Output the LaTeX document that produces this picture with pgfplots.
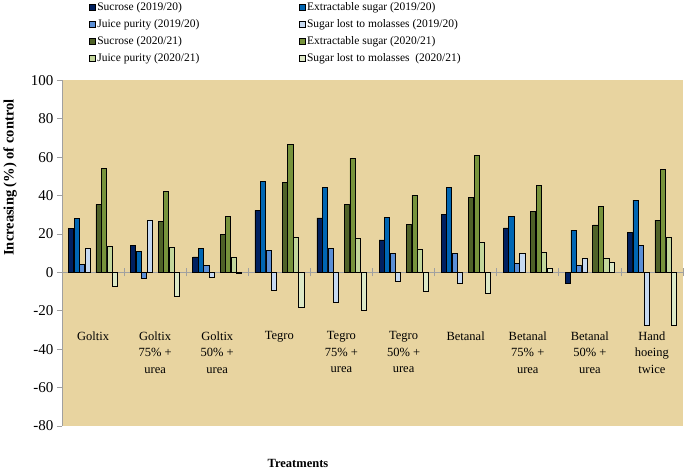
\documentclass[border=0pt]{standalone}
\usepackage{fontspec}
\setmainfont{Liberation Serif}
\usepackage{pgfplots}
\pgfplotsset{compat=1.18}
\definecolor{paper}{HTML}{E8D4A0}
\definecolor{axgray}{HTML}{A0A0A0}
\definecolor{cA}{HTML}{002060}
\definecolor{cB}{HTML}{0066B3}
\definecolor{cC}{HTML}{5B8FD6}
\definecolor{cD}{HTML}{C6D9F1}
\definecolor{cE}{HTML}{4F6228}
\definecolor{cF}{HTML}{77933C}
\definecolor{cG}{HTML}{C3D69B}
\definecolor{cH}{HTML}{DDE8C6}
\begin{document}
\begin{tikzpicture}
\begin{axis}[
  scale only axis, width=621bp, height=345.5bp,
  xmin=-0.5, xmax=9.5, ymin=-80, ymax=100,
  axis x line*=middle, axis y line*=left,
  axis line style={draw=axgray, line width=0.8bp},
  axis background/.style={fill=paper},
  ytick={-80,-60,...,100},
  ytick style={draw=axgray, line width=0.8bp},
  tick align=outside, major tick length=5bp,
  xtick={0,...,9},
  major x tick style={draw=none},
  minor xtick={0.5,1.5,...,9.5},
  minor tick length=8bp,
  minor x tick style={draw=axgray, line width=0.8bp, yshift=4bp},
  xticklabels={Goltix, {Goltix\\75\% +\\urea}, {Goltix\\50\% +\\urea}, Tegro, {Tegro\\75\% +\\urea}, {Tegro\\50\% +\\urea}, Betanal, {Betanal\\75\% +\\urea}, {Betanal\\50\% +\\urea}, {Hand\\hoeing\\twice}},
  xticklabel style={font=\fontsize{12.5bp}{16.5bp}\selectfont, align=center, anchor=north, yshift=-54bp, inner sep=0pt},
  yticklabel style={font=\fontsize{15bp}{16bp}\selectfont},
  /pgf/number format/assume math mode=true,
  ylabel={Increasing (\%) of control},
  every axis y label/.style={at={(axis description cs:-0.0837,0.719)}, rotate=90, anchor=center, font=\bfseries\fontsize{14.5bp}{16bp}\selectfont},
  xlabel={Treatments},
  every axis x label/.style={at={(axis description cs:0.38,0)}, yshift=-37bp, anchor=center, font=\bfseries\fontsize{12.5bp}{15bp}\selectfont},
  legend columns=2,
  legend cell align=left,
  legend style={at={(0,1)}, anchor=north west, xshift=24bp, yshift=82bp, draw=none, fill=none,
    font=\fontsize{11.5bp}{13bp}\selectfont, row sep=4.5bp,
    /tikz/every even column/.append style={column sep=98bp},
    nodes={inner sep=1.5bp}},
  legend image code/.code={\draw[#1, line width=0.6bp] (0bp,-3bp) rectangle (6bp,3bp);},
  every axis plot/.append style={draw=black, line width=0.6bp},
]
\coordinate (ll) at (rel axis cs:0,0);
\coordinate (ur) at (rel axis cs:1,1);
\addplot[ybar, bar width=0.082, bar shift=-0.353, fill=cA] coordinates {(0,23.1) (1,14.0) (2,8.1) (3,32.4) (4,28.4) (5,17.0) (6,30.4) (7,23.2) (8,-5.9) (9,21.0)};
\addplot[ybar, bar width=0.082, bar shift=-0.265, fill=cB] coordinates {(0,28.1) (1,11.1) (2,12.5) (3,47.4) (4,44.4) (5,28.6) (6,44.3) (7,29.2) (8,22.0) (9,37.7)};
\addplot[ybar, bar width=0.082, bar shift=-0.176, fill=cC] coordinates {(0,4.2) (1,-2.8) (2,3.6) (3,11.5) (4,12.5) (5,10.0) (6,10.0) (7,4.7) (8,3.6) (9,14.0)};
\addplot[ybar, bar width=0.082, bar shift=-0.088, fill=cD] coordinates {(0,12.5) (1,27.4) (2,-2.5) (3,-9.4) (4,-15.5) (5,-4.4) (6,-5.9) (7,10.0) (8,7.4) (9,-27.6)};
\addplot[ybar, bar width=0.082, bar shift=0.088, fill=cE] coordinates {(0,35.4) (1,26.7) (2,20.0) (3,47.0) (4,35.6) (5,25.0) (6,39.2) (7,31.9) (8,24.8) (9,27.2)};
\addplot[ybar, bar width=0.082, bar shift=0.176, fill=cF] coordinates {(0,54.0) (1,42.2) (2,29.2) (3,66.8) (4,59.4) (5,40.1) (6,61.1) (7,45.3) (8,34.4) (9,53.5)};
\addplot[ybar, bar width=0.082, bar shift=0.265, fill=cG] coordinates {(0,13.7) (1,13.0) (2,7.8) (3,18.2) (4,17.7) (5,12.3) (6,15.8) (7,10.4) (8,7.6) (9,18.4)};
\addplot[ybar, bar width=0.082, bar shift=0.353, fill=cH] coordinates {(0,-7.0) (1,-12.2) (2,-0.7) (3,-18.2) (4,-19.8) (5,-9.9) (6,-11.0) (7,2.4) (8,5.2) (9,-27.4)};
\legend{Sucrose (2019/20), Extractable sugar (2019/20), Juice purity (2019/20), Sugar lost to molasses (2019/20), Sucrose (2020/21), Extractable sugar (2020/21), Juice purity (2020/21), Sugar lost to molasses\ \ (2020/21)}
\end{axis}
\pgfresetboundingbox
\path ([shift={(-62bp,-43bp)}]ll) rectangle ([shift={(2bp,80.5bp)}]ur);
\end{tikzpicture}
\end{document}
